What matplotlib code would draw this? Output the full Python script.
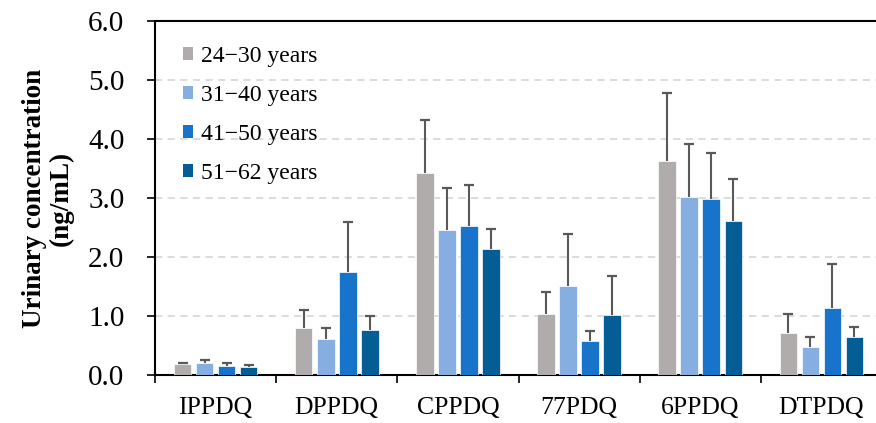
import matplotlib
matplotlib.use("Agg")
import matplotlib.pyplot as plt
import numpy as np
from matplotlib.patches import Patch

categories = ["IPPDQ", "DPPDQ", "CPPDQ", "77PDQ", "6PPDQ", "DTPDQ"]
series_names = ["24\u221230 years", "31\u221240 years", "41\u221250 years", "51\u221262 years"]
colors = ["#B0ACAC", "#86AEE0", "#1874CB", "#045E95"]

means_24_30 = [0.18, 0.79, 3.42, 1.04, 3.62, 0.72]
means_31_40 = [0.20, 0.61, 2.46, 1.51, 3.02, 0.48]
means_41_50 = [0.15, 1.74, 2.52, 0.58, 2.99, 1.13]
means_51_62 = [0.13, 0.77, 2.13, 1.01, 2.61, 0.65]

upper_24_30 = [0.21, 1.10, 4.32, 1.41, 4.78, 1.04]
upper_31_40 = [0.25, 0.80, 3.17, 2.39, 3.92, 0.64]
upper_41_50 = [0.20, 2.60, 3.22, 0.74, 3.76, 1.88]
upper_51_62 = [0.17, 1.00, 2.47, 1.68, 3.32, 0.81]

means = [means_24_30, means_31_40, means_41_50, means_51_62]
uppers = [upper_24_30, upper_31_40, upper_41_50, upper_51_62]

plt.rcParams['font.family'] = ['Liberation Serif', 'DejaVu Serif']

fig = plt.figure(figsize=(8.76, 4.23), dpi=100)
ax = fig.add_axes([155/876, 48/423, 727/876, 354/423])

x = np.arange(len(categories)) + 0.5
step = 0.182
width = 0.145
for i, (m, u) in enumerate(zip(means, uppers)):
    m = np.array(m); u = np.array(u)
    pos = x + (i - 1.5) * step
    ax.bar(pos, m, width=width, color=colors[i], edgecolor='white', linewidth=0.5, zorder=3)
    ax.vlines(pos, m, u, color='#595959', linewidth=1.5, zorder=4)
    ax.plot(pos, u, linestyle='none', marker='_', markersize=7.5, markeredgewidth=1.6,
            color='#595959', zorder=4)

ax.set_xlim(0, 6)
ax.set_ylim(0, 6)
ax.set_yticks(np.arange(0, 7, 1))
ax.set_yticklabels([f"{v:.1f}" for v in np.arange(0, 7, 1)], fontsize=21)
ax.set_xticks(np.arange(0, 7, 1))
ax.set_xticklabels([])
ax.set_xticks(x, minor=True)
ax.set_xticklabels(categories, minor=True, fontsize=18.5)
ax.tick_params(axis='x', which='minor', length=0, pad=16)
ax.tick_params(axis='x', which='major', length=6, width=1.2, direction='out')
ax.tick_params(axis='y', length=6, width=1.2, direction='out', pad=16)

for y in range(1, 6):
    ax.axhline(y, color='#D9D9D9', linewidth=1.3, linestyle=(0, (4, 3)), zorder=1)

ax.spines['right'].set_visible(False)
for s in ['left', 'bottom', 'top']:
    ax.spines[s].set_linewidth(1.5)
    ax.spines[s].set_color('black')

ax.set_ylabel("Urinary concentration\n(ng/mL)", fontsize=19.5, fontweight='bold', labelpad=10,
              linespacing=1.1)

handles = [Patch(facecolor=c, edgecolor='none') for c in colors]
leg = ax.legend(handles, series_names, loc='upper left', bbox_to_anchor=(0.009, 0.99),
                frameon=False, fontsize=17, handlelength=0.45, handleheight=0.45,
                handletextpad=0.3, labelspacing=0.76)

fig.savefig("out.png", dpi=100)
